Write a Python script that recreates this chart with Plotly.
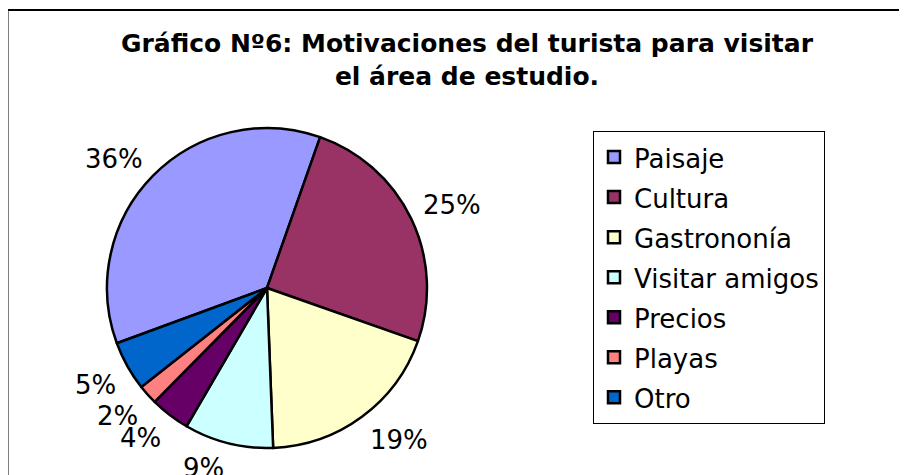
import math
import plotly.graph_objects as go

categories = ["Paisaje", "Cultura", "Gastrononía", "Visitar amigos", "Precios", "Playas", "Otro"]
values = [36, 25, 19, 9, 4, 2, 5]
colors = ["#9999FF", "#993366", "#FFFFCC", "#CCFFFF", "#660066", "#FF8080", "#0066CC"]
title_text = "Gráfico Nº6: Motivaciones del turista para visitar<br>el área de estudio."

W, H = 907, 475
OFF = 8  # page body margin
FONT = "DejaVu Sans, Verdana, sans-serif"
ROT = 249.8

# pie placement in page pixels -> paper coords
cx, cy, r = 267 - OFF, 288 - OFF, 160

def px(x):
    return x / W

def py(y):
    return 1 - y / H

fig = go.Figure()
fig.add_trace(go.Pie(
    labels=[f"<span style='font-size:26px'>{c}</span>" for c in categories],
    values=values,
    sort=False,
    direction="clockwise",
    rotation=ROT,
    marker=dict(colors=colors, line=dict(color="black", width=2.5)),
    textinfo="none",
    domain=dict(x=[px(cx - r), px(cx + r)], y=[py(cy + r), py(cy - r)]),
    hoverinfo="label+percent",
))

# percentage labels placed outside each slice, from the data angles
total = sum(values)
annotations = []
acc = 0
for v in values:
    mid = math.radians(ROT + (acc + v / 2) / total * 360)
    acc += v
    ux, uy = math.sin(mid), -math.cos(mid)
    d = r + 11
    x = cx + d * ux
    y = cy + d * uy + (14 if uy > 0 else -9)
    annotations.append(dict(
        x=px(x), y=py(y), xref="paper", yref="paper",
        text=f"{round(v / total * 100)}%", showarrow=False,
        xanchor="left" if ux > 0.05 else ("right" if ux < -0.05 else "center"),
        yanchor="middle",
        font=dict(family=FONT, size=26, color="black"),
    ))

fig.update_layout(
    width=W, height=H,
    margin=dict(l=0, r=0, t=0, b=0),
    paper_bgcolor="white",
    plot_bgcolor="white",
    font=dict(family=FONT, color="black"),
    title=dict(
        text=title_text,
        x=px(467 - OFF), xanchor="center", xref="paper",
        y=py(44), yanchor="top", yref="paper",
        font=dict(family=FONT, size=25, color="black", weight="bold"),
    ),
    showlegend=True,
    legend=dict(
        x=px(593 - OFF), xanchor="left",
        y=py(131 - OFF), yanchor="top",
        bordercolor="black", borderwidth=1,
        bgcolor="white",
        font=dict(family=FONT, size=28.5, color="black"),
        traceorder="normal",
    ),
    annotations=annotations,
    shapes=[dict(
        type="rect", xref="paper", yref="paper",
        x0=px(-0.5), x1=1.2, y0=-0.2, y1=py(10 - OFF),
        line=dict(color="black", width=2), fillcolor="rgba(0,0,0,0)", layer="above",
    )],
)

fig.write_html("out.html")
